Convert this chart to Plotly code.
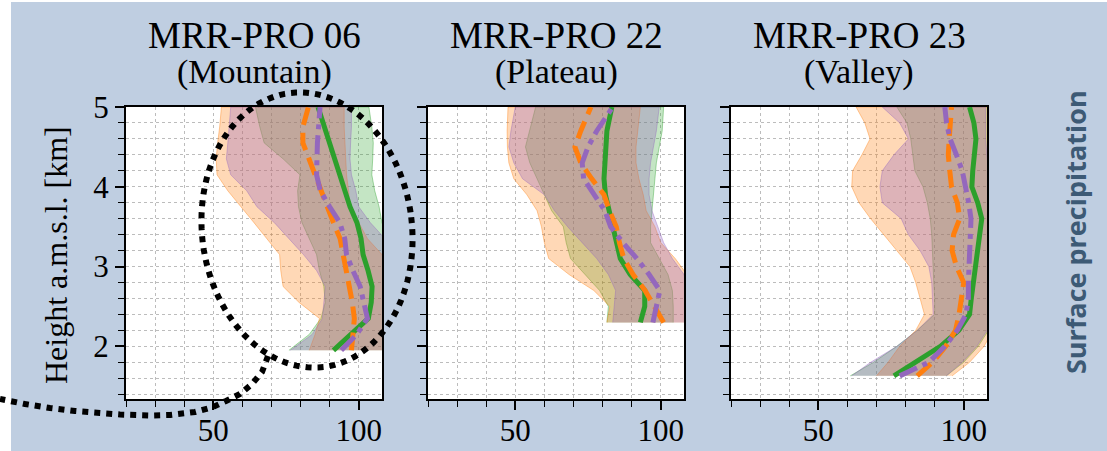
import numpy as np
import plotly.graph_objects as go

W, H = 1107, 451

# ---------------- data ----------------
panel_titles = ["MRR-PRO 06", "MRR-PRO 22", "MRR-PRO 23"]
panel_subtitles = ["(Mountain)", "(Plateau)", "(Valley)"]

# Panel 1 : MRR-PRO 06 (Mountain)
h06 = [1.95, 2.15, 2.35, 2.55, 2.75, 2.95, 3.15, 3.35, 3.55, 3.75, 3.95, 4.15, 4.35, 4.55, 4.75, 5.0]
green_med06 = [91.3, 97.3, 103.3, 104.3, 104.6, 103.2, 101.5, 100.8, 99.4, 97.0, 95.3, 93.5, 91.6, 89.8, 88.2, 86.0]
orange_med06 = [97.5, 98.0, 98.5, 97.8, 96.8, 95.8, 94.6, 93.6, 91.3, 89.2, 87.3, 85.0, 83.0, 80.8, 80.8, 82.7]
purple_med06 = [94.0, 99.3, 103.0, 101.8, 100.5, 98.0, 95.8, 95.2, 93.5, 90.0, 86.8, 85.5, 85.5, 85.8, 86.2, 86.7]
green_lo06 = [76.0, 83.0, 87.0, 88.5, 88.0, 86.5, 85.5, 83.0, 80.5, 79.3, 79.0, 79.8, 74.0, 67.5, 66.0, 64.5]
green_hi06 = [110, 111, 111, 111, 111, 111, 111, 110, 108, 107, 105.5, 104.5, 104.8, 105, 104.5, 103.5]
orange_lo06 = [83.0, 85.0, 86.5, 79.5, 74.0, 73.2, 72.8, 68.5, 64.0, 59.5, 55.0, 51.3, 51.0, 51.5, 52.2, 52.8]
orange_hi06 = [112, 112, 111, 111, 110, 110, 108, 103, 100, 97.0, 96.5, 95.8, 95.5, 95.3, 95.0, 95.0]
purple_lo06 = [76.5, 84.0, 87.5, 88.0, 88.5, 85.5, 81.0, 76.0, 71.0, 65.0, 61.5, 56.0, 54.5, 55.0, 55.5, 56.0]
purple_hi06 = [110, 111, 111, 111, 111, 111, 110, 109, 104, 100, 99, 97.5, 97.0, 97.2, 97.5, 97.5]

# Panel 2 : MRR-PRO 22 (Plateau)
h22 = [2.3, 2.5, 2.7, 2.9, 3.1, 3.3, 3.5, 3.7, 3.9, 4.1, 4.3, 4.5, 4.7, 5.0]
green_med22 = [93.0, 94.5, 94.5, 89.5, 86.1, 84.8, 83.3, 82.3, 81.0, 80.5, 80.9, 81.2, 81.5, 83.2]
orange_med22 = [101.0, 98.0, 94.6, 90.5, 87.3, 85.8, 84.7, 82.4, 80.5, 76.3, 72.5, 70.5, 72.5, 76.0]
purple_med22 = [97.3, 98.6, 99.7, 96.0, 91.8, 87.0, 82.8, 80.8, 77.0, 73.5, 73.0, 75.0, 78.0, 83.5]
green_lo22 = [81.5, 82.0, 79.0, 74.0, 69.0, 67.5, 66.5, 62.5, 60.0, 57.5, 55.0, 53.5, 55.0, 57.0]
green_hi22 = [104.3, 104.3, 104.0, 102.5, 99.5, 96.5, 96.5, 97.0, 97.5, 98.0, 98.5, 99.5, 100.5, 101.0]
orange_lo22 = [81.5, 82.5, 77.0, 68.5, 61.5, 60.0, 59.0, 57.5, 54.0, 49.5, 47.8, 47.3, 47.2, 47.5]
orange_hi22 = [112, 112, 111, 109, 105, 100, 98, 95, 94, 92.5, 91.5, 91.5, 92.0, 93.0]
purple_lo22 = [83.5, 84.0, 84.5, 82.0, 78.0, 73.0, 68.0, 63.5, 60.0, 52.5, 49.5, 47.8, 48.5, 50.0]
purple_hi22 = [112, 111, 110, 108, 104, 101, 99, 97, 96, 96, 96.5, 97.5, 98.5, 99.5]

# Panel 3 : MRR-PRO 23 (Valley)
h23 = [1.63, 1.8, 2.0, 2.2, 2.4, 2.6, 2.8, 3.0, 3.2, 3.4, 3.6, 3.8, 4.0, 4.2, 4.4, 4.6, 4.8, 5.0]
green_med23 = [76.0, 83.0, 92.0, 98.3, 102.0, 102.6, 103.3, 104.0, 104.9, 105.7, 106.2, 104.8, 102.8, 103.1, 103.6, 104.2, 103.5, 102.0]
orange_med23 = [84.0, 89.3, 93.8, 97.2, 98.4, 99.4, 100.0, 97.5, 96.0, 96.5, 98.6, 97.8, 95.8, 95.2, 94.7, 95.0, 95.3, 95.8]
purple_med23 = [78.0, 88.0, 93.5, 97.8, 100.8, 101.6, 101.6, 101.8, 102.1, 102.5, 102.5, 101.7, 100.6, 99.5, 97.5, 95.3, 94.1, 93.5]
green_lo23 = [61.0, 69.0, 77.0, 84.0, 90.0, 90.0, 89.7, 89.5, 89.3, 89.0, 88.5, 87.5, 86.0, 83.2, 82.5, 81.8, 80.5, 77.0]
green_hi23 = [94.0, 100.0, 105.0, 108.5, 112, 112, 112, 112, 112, 112, 112, 112, 111, 110, 109.5, 109, 109, 109]
orange_lo23 = [70.0, 74.0, 78.0, 83.5, 86.5, 85.0, 83.5, 81.5, 77.0, 72.5, 68.0, 64.0, 61.5, 61.8, 65.0, 67.8, 66.0, 63.0]
orange_hi23 = [96.0, 102.0, 107.0, 110.0, 112, 112, 112, 112, 112, 112, 112, 112, 112, 112, 111, 110, 110, 110]
purple_lo23 = [61.5, 68.0, 77.0, 84.0, 89.5, 89.3, 89.0, 88.0, 85.0, 81.0, 78.5, 72.0, 71.2, 72.0, 76.0, 81.0, 78.0, 72.0]
purple_hi23 = [94.0, 99.5, 104.5, 108.0, 112, 112, 112, 112, 112, 112, 112, 112, 110, 108.5, 108, 107.5, 107.5, 107.5]

x_range = [20, 108]
y_range = [1.34, 5.0]

# ---------------- styling ----------------
GREEN, ORANGE, PURPLE = "#2ca02c", "#ff7f0e", "#9467bd"
FILL = {"g": "rgba(44,160,44,0.28)", "o": "rgba(255,127,14,0.30)", "p": "rgba(148,103,189,0.32)"}
EDGE = {"g": "rgba(44,160,44,0.4)", "o": "rgba(255,127,14,0.4)", "p": "rgba(148,103,189,0.4)"}
BG = "rgb(191,206,225)"
SERIF = "Liberation Serif"

panels = [
    dict(h=h06, gm=green_med06, om=orange_med06, pm=purple_med06,
         gl=green_lo06, gh=green_hi06, ol=orange_lo06, oh=orange_hi06, pl=purple_lo06, ph=purple_hi06),
    dict(h=h22, gm=green_med22, om=orange_med22, pm=purple_med22,
         gl=green_lo22, gh=green_hi22, ol=orange_lo22, oh=orange_hi22, pl=purple_lo22, ph=purple_hi22),
    dict(h=h23, gm=green_med23, om=orange_med23, pm=purple_med23,
         gl=green_lo23, gh=green_hi23, ol=orange_lo23, oh=orange_hi23, pl=purple_lo23, ph=purple_hi23),
]

# pixel boxes of the three axes  (left, right) ; top/bottom shared
px_boxes = [(126, 382), (428, 684), (731, 987)]
top_px, bot_px = 107, 399

fig = go.Figure()

for i, p in enumerate(panels):
    xa = "x" if i == 0 else f"x{i+1}"
    ya = "y" if i == 0 else f"y{i+1}"
    h = p["h"]
    for key, lo, hi in (("g", p["gl"], p["gh"]), ("o", p["ol"], p["oh"]), ("p", p["pl"], p["ph"])):
        fig.add_trace(go.Scatter(
            x=list(lo) + list(hi)[::-1], y=list(h) + list(h)[::-1],
            fill="toself", fillcolor=FILL[key], mode="lines",
            line=dict(color=EDGE[key], width=1), xaxis=xa, yaxis=ya,
            showlegend=False, hoverinfo="skip"))
    fig.add_trace(go.Scatter(x=p["gm"], y=h, mode="lines", line=dict(color=GREEN, width=5),
                             xaxis=xa, yaxis=ya, showlegend=False))
    fig.add_trace(go.Scatter(x=p["om"], y=h, mode="lines",
                             line=dict(color=ORANGE, width=5, dash="18px,8px"),
                             xaxis=xa, yaxis=ya, showlegend=False))
    fig.add_trace(go.Scatter(x=p["pm"], y=h, mode="lines",
                             line=dict(color=PURPLE, width=5, dash="19px,6px,5px,6px"),
                             xaxis=xa, yaxis=ya, showlegend=False))

grid_col = "rgba(160,160,160,0.7)"
layout = dict(
    width=W, height=H, margin=dict(l=0, r=0, t=0, b=0, pad=0, autoexpand=False),
    paper_bgcolor=BG, plot_bgcolor="white", showlegend=False,
)
for i, (l, r) in enumerate(px_boxes):
    xk = "xaxis" if i == 0 else f"xaxis{i+1}"
    yk = "yaxis" if i == 0 else f"yaxis{i+1}"
    yid = "y" if i == 0 else f"y{i+1}"
    xid = "x" if i == 0 else f"x{i+1}"
    layout[xk] = dict(
        domain=[l / W, r / W], range=x_range, anchor=yid, automargin=False,
        tick0=0, dtick=50, ticks="outside", ticklen=9, tickwidth=1.6, tickcolor="black",
        showline=True, linecolor="black", linewidth=2, mirror=True, ticklabelstandoff=-6,
        showgrid=True, gridcolor=grid_col, gridwidth=1, griddash="dot", zeroline=False,
        tickfont=dict(family=SERIF, size=31, color="black"),
        minor=dict(tick0=0, dtick=10, ticks="outside", ticklen=6, tickwidth=1.3, tickcolor="black",
                   showgrid=True, gridcolor=grid_col, gridwidth=1, griddash="dot"),
    )
    layout[yk] = dict(
        domain=[1 - bot_px / H, 1 - top_px / H], range=y_range, anchor=xid, automargin=False,
        tick0=0, dtick=1, ticks="outside", ticklen=9, tickwidth=1.6, tickcolor="black",
        showline=True, linecolor="black", linewidth=2, mirror=True,
        showgrid=True, gridcolor=grid_col, gridwidth=1, griddash="dot", zeroline=False,
        showticklabels=(i == 0),
        tickfont=dict(family=SERIF, size=31, color="black"),
        minor=dict(tick0=0, dtick=0.2, ticks="outside", ticklen=6, tickwidth=1.3, tickcolor="black",
                   showgrid=True, gridcolor=grid_col, gridwidth=1, griddash="dot"),
    )

annotations = []
for i, (l, r) in enumerate(px_boxes):
    cx = (l + r) / 2 / W
    annotations.append(dict(text=panel_titles[i], x=cx, y=1 - 35 / H, xref="paper", yref="paper",
                            showarrow=False, xanchor="center", yanchor="middle",
                            height=33, valign="middle", borderpad=0,
                            font=dict(family=SERIF, size=37, color="black")))
    annotations.append(dict(text=panel_subtitles[i], x=cx, y=1 - 71.5 / H, xref="paper", yref="paper",
                            showarrow=False, xanchor="center", yanchor="middle",
                            height=38, valign="middle", borderpad=0,
                            font=dict(family=SERIF, size=34, color="black")))
annotations.append(dict(text="Height a.m.s.l. [km]", x=56 / W, y=1 - 255 / H, xref="paper", yref="paper",
                        showarrow=False, textangle=-90, xanchor="center", yanchor="middle",
                        font=dict(family=SERIF, size=32, color="black")))
annotations.append(dict(text="<b>Surface precipitation</b>", x=1075 / W, y=1 - 232 / H,
                        xref="paper", yref="paper", showarrow=False, textangle=-90,
                        xanchor="center", yanchor="middle",
                        font=dict(family="Open Sans", size=27, color="#3d5a75")))
layout["annotations"] = annotations


def to_paper(px, py):
    return px / W, 1 - py / H


# white frame strips at the left and top edges
shapes = [
    dict(type="rect", xref="paper", yref="paper", x0=0, x1=11 / W, y0=0, y1=1,
         fillcolor="white", line=dict(width=0), layer="below"),
    dict(type="rect", xref="paper", yref="paper", x0=0, x1=1, y0=1 - 2 / H, y1=1,
         fillcolor="white", line=dict(width=0), layer="below"),
]

# dotted highlight ellipse + tail (decoration, pixel space -> paper)
cx, cy, rx, ry, th = 307, 230, 105, 138, np.deg2rad(-7)
t = np.linspace(0, 2 * np.pi, 121)
ex = cx + rx * np.cos(t) * np.cos(th) - ry * np.sin(t) * np.sin(th)
ey = cy + rx * np.cos(t) * np.sin(th) + ry * np.sin(t) * np.cos(th)
pts = [to_paper(a, b) for a, b in zip(ex, ey)]
path = "M " + " L ".join(f"{a:.5f},{b:.5f}" for a, b in pts) + " Z"
shapes.append(dict(type="path", xref="paper", yref="paper", path=path,
                   line=dict(color="black", width=6, dash="dot"), layer="above"))

tail_px = [(268, 356), (262, 372), (252, 384), (240, 394), (226, 401), (213, 407), (195, 412),
           (170, 415), (150, 415.5), (120, 414.5), (100, 413), (75, 411), (50, 408), (25, 404), (0, 399)]
tail = [to_paper(a, b) for a, b in tail_px]
tpath = "M " + " L ".join(f"{a:.5f},{b:.5f}" for a, b in tail)
shapes.append(dict(type="path", xref="paper", yref="paper", path=tpath,
                   line=dict(color="black", width=6, dash="dot"), layer="above"))
layout["shapes"] = shapes

fig.update_layout(**layout)
fig.write_html("out.html")
